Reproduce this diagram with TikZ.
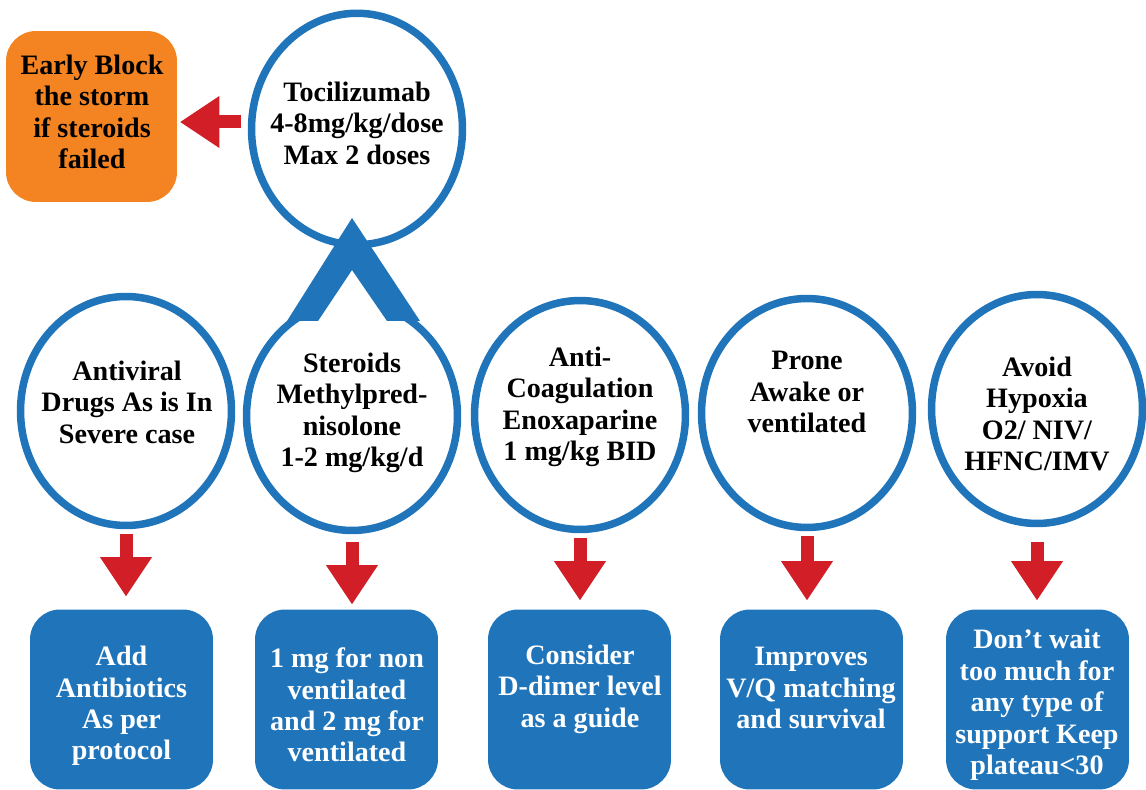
\documentclass[tikz,border=0pt]{standalone}
\usepackage{fontspec}
\setmainfont{Liberation Serif}
\usetikzlibrary{arrows.meta,shapes.geometric}
\definecolor{ringblue}{RGB}{31,116,186}
\definecolor{arrowred}{RGB}{210,31,39}
\definecolor{stormorange}{RGB}{243,132,33}
\begin{document}
\begin{tikzpicture}[x=0.02cm,y=-0.02cm,
  ring/.style={ellipse,draw=ringblue,fill=white,line width=0.15cm,inner sep=0pt,
    minimum width=4.22cm,minimum height=4.58cm},
  card/.style={rectangle,rounded corners=0.6cm,fill=ringblue,inner sep=0pt,
    minimum width=3.66cm,minimum height=3.6cm},
  lbl/.style={align=center,inner sep=0pt,font=\fontsize{16}{17.9}\selectfont\bfseries},
  wlbl/.style={lbl,text=white},
  blockarrow/.style={draw=arrowred,line width=0.26cm,shorten <=0.1cm,shorten >=0.18cm,
    -{Triangle[width=1.04cm,length=0.78cm,line width=0pt]}}]
\useasboundingbox (0,0) rectangle (1146,790);
%% top circle and the orange box
\node[ring,minimum height=4.63cm] (toci) at (357,129) {};
\node[card,fill=stormorange,minimum width=3.42cm,minimum height=3.42cm] (storm) at (91.5,116.5) {};
%% row of circles
\node[ring] (antiviral) at (126,411) {};
\node[ring] (steroid) at (352,416) {};
\node[ring] (coag) at (580,415) {};
\node[ring] (prone) at (807,413) {};
\node[ring] (hypoxia) at (1037,409) {};
%% row of boxes
\node[card] (abx) at (121.5,699.5) {};
\node[card] (ventmg) at (346.5,699.5) {};
\node[card] (ddimer) at (579.5,699.5) {};
\node[card] (vq) at (811.5,699.5) {};
\node[card] (support) at (1037.5,699.5) {};
%% the peak joining steroids to tocilizumab
\fill[white] (287,282) rectangle (420,321.5);
\fill[ringblue] (352,218) -- (420,321) -- (387,321) -- (352,270) -- (318,321) -- (287,321) -- cycle;
%% texts
\node[lbl] (tocitext) at (357,123) {Tocilizumab\\4-8mg/kg/dose\\Max 2 doses};
\node[lbl] (stormtext) at (92,112) {Early Block\\the storm\\if steroids\\failed};
\node[lbl] (antiviraltext) at (127,402) {Antiviral\\Drugs As is In\\Severe case};
\node[lbl] (steroidtext) at (352,413) {Steroids\\Methylpred-\\nisolone\\1-2 mg/kg/d};
\node[lbl] (coagtext) at (580,407) {Anti-\\Coagulation\\Enoxaparine\\1 mg/kg BID};
\node[lbl] (pronetext) at (807,392) {Prone\\Awake or\\ventilated};
\node[lbl] (hypoxiatext) at (1037,414) {Avoid\\Hypoxia\\O2/ NIV/\\HFNC/IMV};
\node[wlbl] (abxtext) at (121.5,706) {Add\\Antibiotics\\As per\\protocol};
\node[wlbl] (ventmgtext) at (347,705) {1 mg for non\\ventilated\\and 2 mg for\\ventilated};
\node[wlbl] (ddimertext) at (580,689) {Consider\\D-dimer level\\as a guide};
\node[wlbl] (vqtext) at (811,688) {Improves\\V/Q matching\\and survival};
\node[wlbl] (supporttext) at (1037,705) {Don’t wait\\too much for\\any type of\\support Keep\\plateau<30};
%% arrows
\draw[blockarrow,shorten <=0.14cm,shorten >=0.06cm] ([yshift=0.14cm]toci.west) -- ([yshift=0.14cm]toci.west -| storm.east);
\draw[blockarrow,shorten >=0.26cm] (antiviral.south) -- (antiviral.south |- abx.north);
\draw[blockarrow,shorten <=0.16cm,shorten >=0.1cm] (steroid.south) -- (steroid.south |- ventmg.north);
\draw[blockarrow] (coag.south) -- (coag.south |- ddimer.north);
\draw[blockarrow] (prone.south) -- (prone.south |- vq.north);
\draw[blockarrow,shorten <=0.3cm] (hypoxia.south) -- (hypoxia.south |- support.north);
\end{tikzpicture}
\end{document}
